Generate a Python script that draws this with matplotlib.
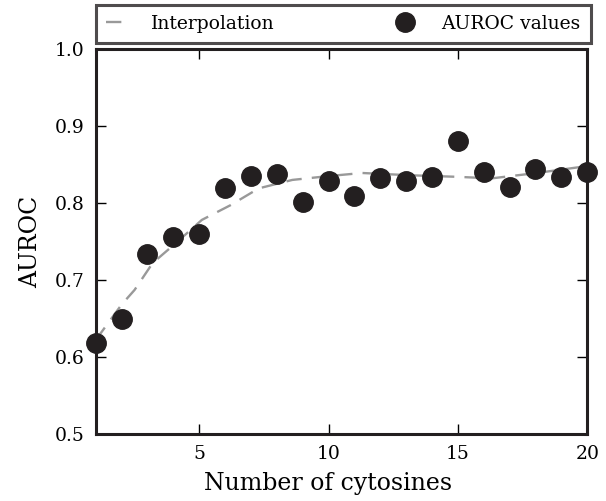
import numpy as np
import matplotlib.pyplot as plt

# AUROC per number of cytosines
n_cyt = [1, 2, 3, 4, 5, 6, 7, 8, 9, 10, 11, 12, 13, 14, 15, 16, 17, 18, 19, 20]
auroc = [0.618, 0.649, 0.734, 0.756, 0.760, 0.819, 0.835, 0.838, 0.801, 0.829,
         0.809, 0.832, 0.829, 0.834, 0.881, 0.840, 0.821, 0.844, 0.834, 0.840]

# interpolation curve
curve_x = [1.0, 2.0, 2.5, 3.2, 4.1, 5.1, 6.2, 7.3, 8.6, 10.0, 11.3, 13.2, 15.0, 16.3, 17.8, 18.7, 20.0]
curve_y = [0.622, 0.668, 0.687, 0.722, 0.748, 0.778, 0.797, 0.819, 0.830, 0.835,
           0.839, 0.836, 0.834, 0.832, 0.838, 0.842, 0.848]

plt.rcParams['font.family'] = 'DejaVu Serif'
fig = plt.figure(figsize=(6.06, 5.01), dpi=100)
ax = fig.add_axes([0.158, 0.134, 0.811, 0.768])

ax.plot(curve_x, curve_y, linestyle=(0, (6.5, 4.3)), color='#999999', lw=1.7, label='Interpolation')
ax.plot(n_cyt, auroc, 'o', color='#231f20', ms=14, clip_on=False, zorder=3, label='AUROC values')

ax.set_xlim(1, 20)
ax.set_ylim(0.5, 1.0)
ax.set_xticks([5, 10, 15, 20])
ax.set_yticks([0.5, 0.6, 0.7, 0.8, 0.9, 1.0])
ax.tick_params(direction='in', length=7, width=1, top=True, right=True, labelsize=13.5, pad=8)
for s in ax.spines.values():
    s.set_linewidth(2.2)
    s.set_color('#231f20')

ax.set_xlabel('Number of cytosines', fontsize=17)
ax.xaxis.set_label_coords(0.473, -0.1)
ax.set_ylabel('AUROC', fontsize=17, labelpad=9)

leg = ax.legend(loc='lower left', bbox_to_anchor=(0, 1.015, 1.008, 0.09), mode='expand', ncol=2,
                fontsize=13.5, fancybox=False, borderaxespad=0, numpoints=1, handlelength=0.9,
                borderpad=0.55, handletextpad=1.5)
leg.get_frame().set_edgecolor('#231f20')
leg.get_frame().set_linewidth(2.2)

fig.savefig('out.png', dpi=100)
